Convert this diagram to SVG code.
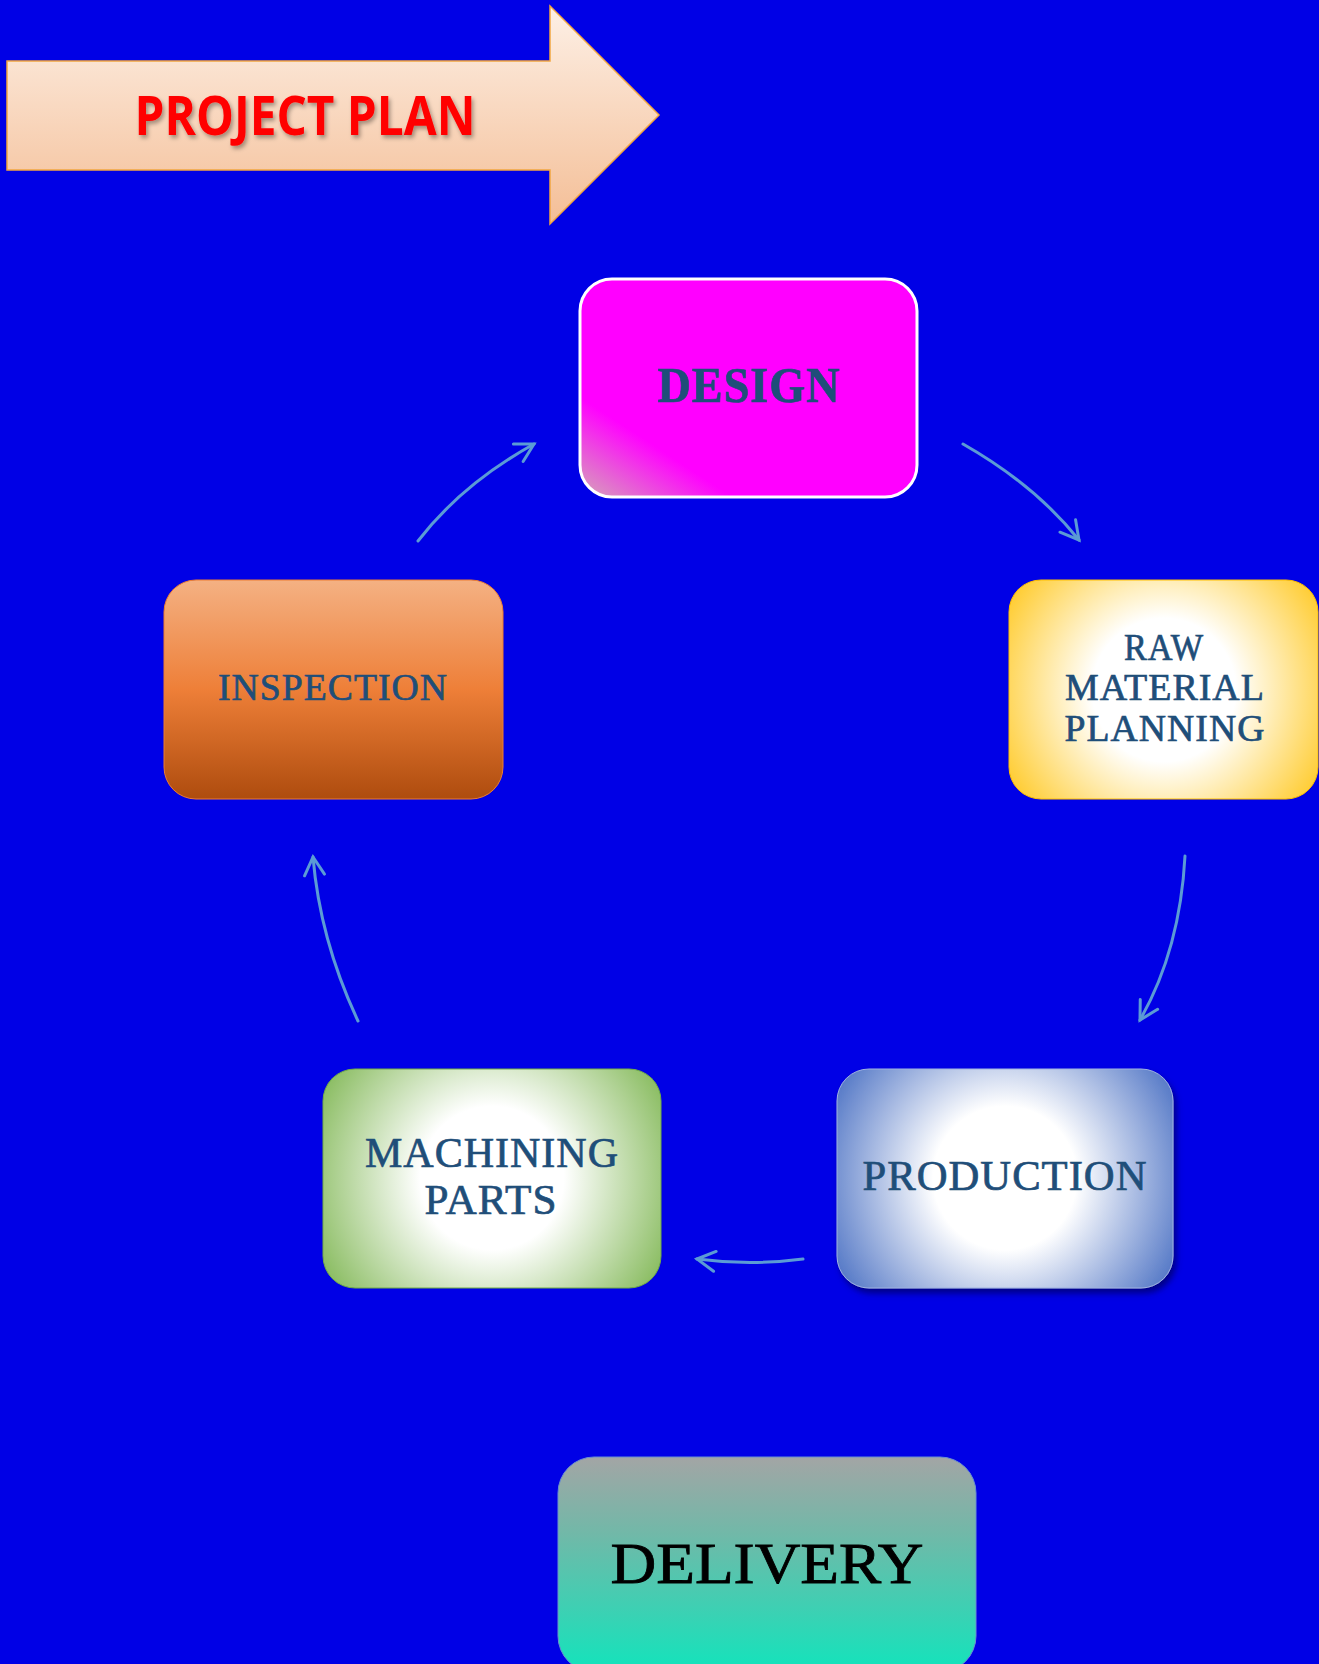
<svg xmlns="http://www.w3.org/2000/svg" width="1319" height="1664" viewBox="0 0 1319 1664">
<defs>
<style>
.lbl{font-family:"Liberation Serif","DejaVu Serif",serif;fill:#1F4E79;stroke:#1F4E79;stroke-width:0.7;text-anchor:middle;letter-spacing:1px}
.con{fill:none;stroke:#5B9BD5;stroke-width:3;stroke-linecap:round;marker-end:url(#ah)}
</style>
<marker id="ah" markerUnits="userSpaceOnUse" orient="auto" overflow="visible" markerWidth="1" markerHeight="1" refX="0" refY="0">
<path d="M-18,-10 L0,0 L-18,10" fill="none" stroke="#5B9BD5" stroke-width="3" stroke-linecap="round"/>
</marker>
<linearGradient id="gArrow" x1="0" y1="0" x2="0" y2="1">
<stop offset="0" stop-color="#FDF0E6"/><stop offset="1" stop-color="#F4BE96"/>
</linearGradient>
<linearGradient id="gDesign" gradientUnits="userSpaceOnUse" x1="580" y1="497" x2="626" y2="427">
<stop offset="0" stop-color="#D4A8B6"/><stop offset="1" stop-color="#FF00FF"/>
</linearGradient>
<radialGradient id="gRaw" gradientUnits="userSpaceOnUse" cx="1164" cy="690" r="205">
<stop offset="0" stop-color="#FFFFFF"/><stop offset="0.35" stop-color="#FFFFFF"/><stop offset="1" stop-color="#FFC000"/>
</radialGradient>
<linearGradient id="gInsp" x1="0" y1="0" x2="0" y2="1">
<stop offset="0" stop-color="#F4B183"/><stop offset="0.5" stop-color="#EE7F38"/><stop offset="1" stop-color="#AE4C0E"/>
</linearGradient>
<radialGradient id="gMach" gradientUnits="userSpaceOnUse" cx="492" cy="1178" r="205">
<stop offset="0" stop-color="#FFFFFF"/><stop offset="0.35" stop-color="#FFFFFF"/><stop offset="1" stop-color="#7DB550"/>
</radialGradient>
<radialGradient id="gProd" gradientUnits="userSpaceOnUse" cx="1005" cy="1178" r="205">
<stop offset="0" stop-color="#FFFFFF"/><stop offset="0.35" stop-color="#FFFFFF"/><stop offset="1" stop-color="#4169C0"/>
</radialGradient>
<linearGradient id="gDel" x1="0" y1="0" x2="0" y2="1">
<stop offset="0" stop-color="#A3A5A5"/><stop offset="0.35" stop-color="#72B8A8"/><stop offset="1" stop-color="#12E4BC"/>
</linearGradient>
<filter id="tshadow" x="-10%" y="-20%" width="120%" height="150%">
<feDropShadow dx="2" dy="3" stdDeviation="2" flood-color="#000" flood-opacity="0.35"/>
</filter>
<filter id="bshadow" x="-10%" y="-10%" width="125%" height="130%">
<feDropShadow dx="3" dy="5" stdDeviation="3" flood-color="#00004A" flood-opacity="0.6"/>
</filter>
</defs>
<rect x="0" y="0" width="1319" height="1664" fill="#0000E6"/>

<g id="title">
<polygon points="7,61 550,61 550,6 659,115 550,224 550,170 7,170" fill="url(#gArrow)" stroke="#F2A640" stroke-width="1.5"/>
<text x="305" y="135" font-family="'Open Sans','Liberation Sans',sans-serif" font-weight="bold" font-size="53" fill="#FF0000" text-anchor="middle" textLength="341" lengthAdjust="spacingAndGlyphs" filter="url(#tshadow)">PROJECT PLAN</text>
</g>

<g id="connectors">
<path class="con" d="M418,541 Q462,484 534,444"/>
<path class="con" d="M963,444 Q1035,485 1079,540"/>
<path class="con" d="M1185,856 Q1180,950 1140,1020"/>
<path class="con" d="M803,1259 Q750,1266 697,1259"/>
<path class="con" d="M358,1021 Q320,940 313,857"/>
</g>

<g id="design">
<rect x="580" y="279" width="337" height="218" rx="32" fill="url(#gDesign)" stroke="#FFFFFF" stroke-width="3"/>
<text class="lbl" x="749" y="402" font-size="50" font-weight="bold" textLength="183" lengthAdjust="spacingAndGlyphs">DESIGN</text>
</g>

<g id="raw-material-planning">
<rect x="1009" y="580" width="309" height="219" rx="32" fill="url(#gRaw)" stroke="#FFC000" stroke-width="1"/>
<text class="lbl" x="1164" y="660" font-size="37" textLength="80" lengthAdjust="spacingAndGlyphs">RAW</text>
<text class="lbl" x="1165" y="700" font-size="37" textLength="200" lengthAdjust="spacingAndGlyphs">MATERIAL</text>
<text class="lbl" x="1165" y="741" font-size="37" textLength="201" lengthAdjust="spacingAndGlyphs">PLANNING</text>
</g>

<g id="inspection">
<rect x="164" y="580" width="339" height="219" rx="32" fill="url(#gInsp)" stroke="#ED7D31" stroke-width="1"/>
<text class="lbl" x="333" y="700" font-size="37" textLength="230" lengthAdjust="spacingAndGlyphs">INSPECTION</text>
</g>

<g id="machining-parts">
<rect x="323" y="1069" width="338" height="219" rx="32" fill="url(#gMach)" stroke="#70AD47" stroke-width="1"/>
<text class="lbl" x="492" y="1167" font-size="43" textLength="254" lengthAdjust="spacingAndGlyphs">MACHINING</text>
<text class="lbl" x="491" y="1214" font-size="43" textLength="133" lengthAdjust="spacingAndGlyphs">PARTS</text>
</g>

<g id="production">
<rect x="837" y="1069" width="336" height="219" rx="32" fill="url(#gProd)" stroke="#9FB3E0" stroke-width="1" filter="url(#bshadow)"/>
<text class="lbl" x="1005" y="1190" font-size="42" textLength="285" lengthAdjust="spacingAndGlyphs">PRODUCTION</text>
</g>

<g id="delivery">
<rect x="558" y="1457" width="418" height="215" rx="36" fill="url(#gDel)" stroke="#6A8FD0" stroke-width="1"/>
<text x="767" y="1583" font-family="'Liberation Serif','DejaVu Serif',serif" font-size="58" fill="#000000" stroke="#000000" stroke-width="0.8" text-anchor="middle" textLength="313" lengthAdjust="spacingAndGlyphs">DELIVERY</text>
</g>
</svg>
